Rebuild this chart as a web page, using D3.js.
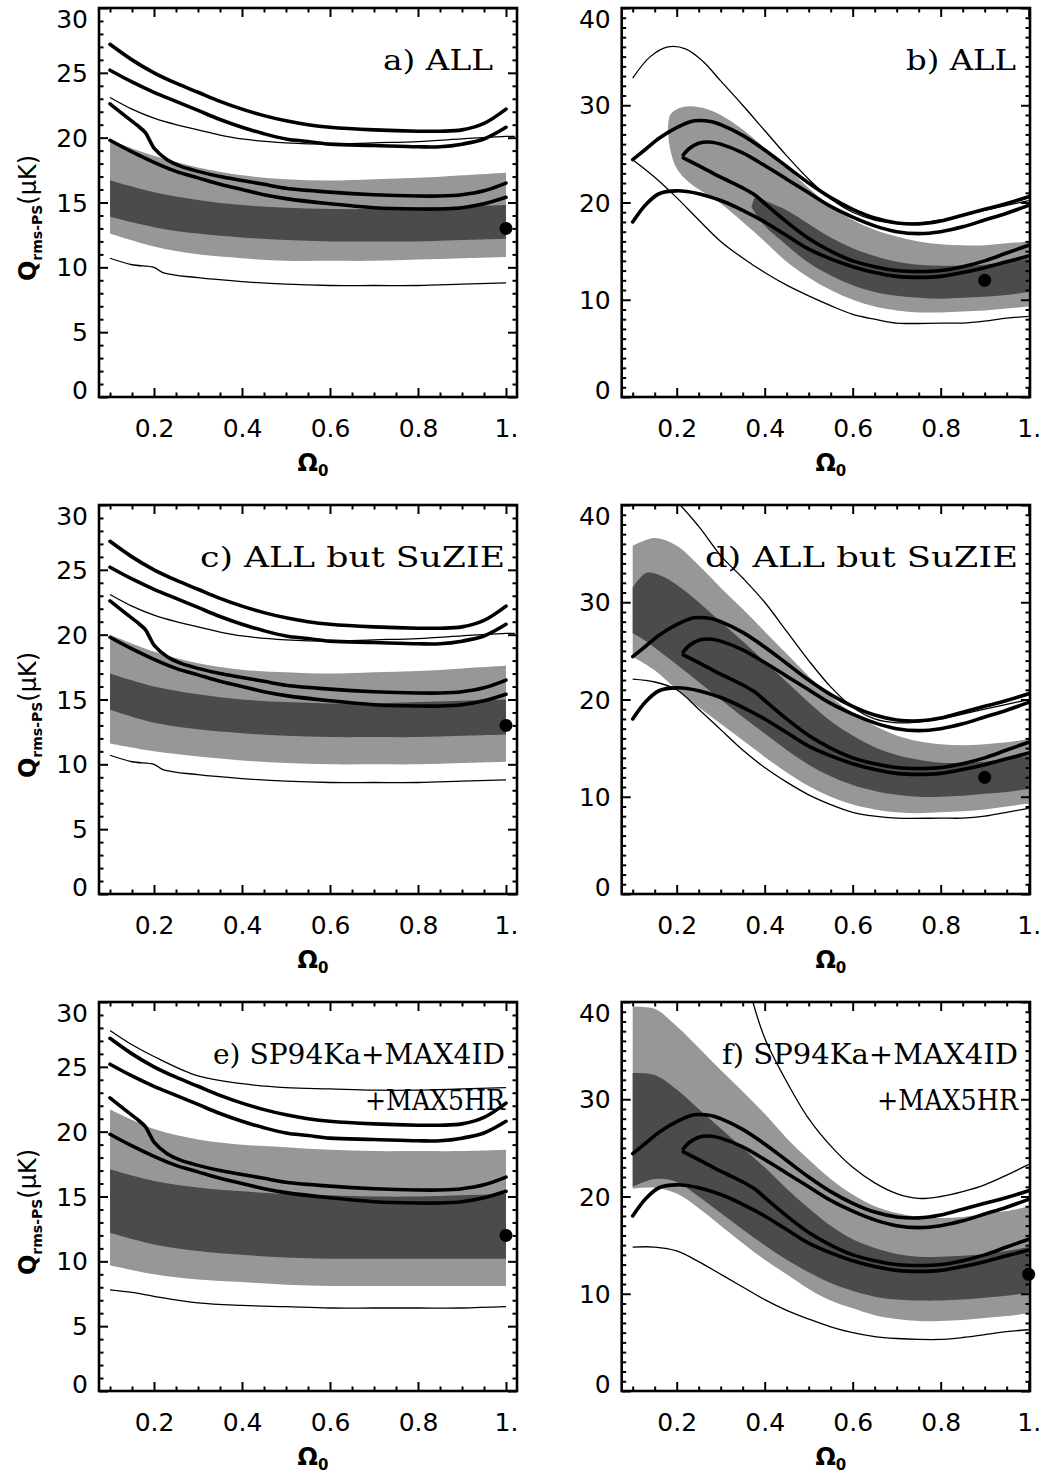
<!DOCTYPE html>
<html>
<head>
<meta charset="utf-8">
<script src="https://cdn.jsdelivr.net/npm/d3@7"></script>
<style>
  body { margin: 0; background: #fff; }
  text { fill: #000; }
</style>
</head>
<body>
<div id="chart"></div>
<script>
// ---- data ----
// thick contours, left column (a, c, e share them)
var thickL1 = [[0.1,27.2],[0.15,26.0],[0.2,25.0],[0.25,24.2],[0.3,23.5],[0.35,22.8],[0.4,22.2],[0.45,21.7],[0.5,21.3],[0.55,21.0],[0.6,20.8],[0.7,20.6],[0.8,20.5],[0.85,20.5],[0.9,20.6],[0.95,21.1],[1.0,22.2]];
var thickL2 = [[0.1,25.2],[0.15,24.3],[0.2,23.5],[0.25,22.8],[0.3,22.1],[0.35,21.4],[0.4,20.8],[0.45,20.3],[0.5,19.9],[0.55,19.7],[0.6,19.5],[0.7,19.4],[0.8,19.3],[0.85,19.3],[0.9,19.5],[0.95,19.9],[1.0,20.8]];
var thickL3 = [[0.1,22.6],[0.13,21.8],[0.16,21.0],[0.18,20.4],[0.19,19.8],[0.2,19.2],[0.23,18.3],[0.26,17.8],[0.3,17.4],[0.35,17.0],[0.4,16.7],[0.45,16.4],[0.5,16.1],[0.6,15.8],[0.7,15.6],[0.8,15.5],[0.85,15.5],[0.9,15.6],[0.95,15.9],[1.0,16.5]];
var thickL4 = [[0.1,19.8],[0.15,18.9],[0.2,18.1],[0.25,17.4],[0.3,16.9],[0.35,16.4],[0.4,16.0],[0.45,15.6],[0.5,15.3],[0.6,14.9],[0.7,14.6],[0.8,14.5],[0.85,14.5],[0.9,14.6],[0.95,14.9],[1.0,15.4]];

// thick contours, right column (b, d, f share them)
var thickR1 = [[0.1,24.4],[0.13,25.5],[0.16,26.6],[0.2,27.7],[0.24,28.4],[0.28,28.3],[0.3,28.0],[0.35,26.9],[0.4,25.4],[0.45,23.7],[0.5,22.0],[0.55,20.5],[0.6,19.3],[0.65,18.4],[0.7,17.9],[0.75,17.8],[0.8,18.1],[0.85,18.7],[0.9,19.3],[0.95,19.9],[1.0,20.6]];
var thickR2 = [[0.215,24.9],[0.23,25.6],[0.25,26.1],[0.28,26.2],[0.3,26.0],[0.35,25.1],[0.4,23.8],[0.45,22.4],[0.5,21.0],[0.55,19.6],[0.6,18.5],[0.65,17.6],[0.7,17.0],[0.75,16.8],[0.8,17.0],[0.85,17.5],[0.9,18.2],[0.95,18.9],[1.0,19.7]];
var thickR3 = [[0.215,24.6],[0.25,23.8],[0.3,22.6],[0.35,21.5],[0.38,20.7],[0.4,19.9],[0.45,18.0],[0.5,16.3],[0.55,15.0],[0.6,14.0],[0.65,13.4],[0.7,13.0],[0.75,12.9],[0.8,13.0],[0.85,13.4],[0.9,14.0],[0.95,14.8],[1.0,15.6]];
var thickR4 = [[0.1,18.0],[0.13,19.8],[0.16,20.9],[0.2,21.2],[0.25,20.9],[0.3,20.2],[0.35,19.2],[0.4,18.0],[0.45,16.6],[0.5,15.2],[0.55,14.2],[0.6,13.4],[0.65,12.8],[0.7,12.4],[0.75,12.3],[0.8,12.4],[0.85,12.8],[0.9,13.3],[0.95,13.9],[1.0,14.5]];

// shaded regions: [x, low, high]
var lightA = [[0.1,12.6,19.8],[0.2,11.6,18.6],[0.3,11.0,17.7],[0.4,10.7,17.1],[0.5,10.5,16.8],[0.6,10.5,16.7],[0.7,10.5,16.8],[0.8,10.6,16.9],[0.9,10.7,17.1],[1.0,10.8,17.3]];
var darkA  = [[0.1,13.9,16.7],[0.2,13.1,15.8],[0.3,12.6,15.2],[0.4,12.3,14.8],[0.5,12.1,14.6],[0.6,12.0,14.5],[0.7,12.0,14.5],[0.8,12.0,14.6],[0.9,12.1,14.7],[1.0,12.2,14.8]];
var lightC = [[0.1,11.6,20.0],[0.2,11.0,18.7],[0.3,10.6,17.8],[0.4,10.3,17.3],[0.5,10.1,17.1],[0.6,10.0,17.0],[0.7,10.0,17.1],[0.8,10.0,17.2],[0.9,10.1,17.4],[1.0,10.2,17.6]];
var darkC  = [[0.1,14.2,17.0],[0.2,13.2,16.0],[0.3,12.7,15.4],[0.4,12.4,15.0],[0.5,12.2,14.8],[0.6,12.1,14.7],[0.7,12.1,14.7],[0.8,12.1,14.8],[0.9,12.2,14.9],[1.0,12.3,15.0]];
var lightE = [[0.1,9.7,21.7],[0.2,9.0,20.2],[0.3,8.6,19.4],[0.4,8.4,19.0],[0.5,8.2,18.8],[0.6,8.1,18.6],[0.7,8.1,18.5],[0.8,8.1,18.5],[0.9,8.1,18.5],[1.0,8.1,18.6]];
var darkE  = [[0.1,12.2,17.1],[0.2,11.3,16.2],[0.3,10.8,15.7],[0.4,10.5,15.4],[0.5,10.3,15.2],[0.6,10.2,15.1],[0.7,10.2,15.0],[0.8,10.2,15.0],[0.9,10.2,15.1],[1.0,10.2,15.2]];
var lightB = [[0.18,27.5,27.5],[0.185,25.5,29.0],[0.2,23.5,29.6],[0.23,22.0,29.9],[0.27,20.8,29.6],[0.3,19.9,29.0],[0.35,18.0,27.5],[0.4,16.0,25.6],[0.45,13.9,23.6],[0.5,12.3,21.5],[0.55,11.0,19.6],[0.6,10.0,18.2],[0.65,9.3,17.2],[0.7,8.9,16.5],[0.75,8.7,16.0],[0.8,8.7,15.7],[0.85,8.8,15.6],[0.9,8.9,15.6],[0.95,9.1,15.8],[1.0,9.3,16.0]];
var darkB  = [[0.37,19.5,19.5],[0.38,18.8,20.6],[0.4,17.6,20.2],[0.45,15.6,19.2],[0.5,13.8,17.8],[0.55,12.5,16.4],[0.6,11.5,15.3],[0.65,10.8,14.5],[0.7,10.4,13.9],[0.75,10.2,13.6],[0.8,10.1,13.5],[0.85,10.2,13.5],[0.9,10.3,13.6],[0.95,10.5,13.9],[1.0,10.8,14.2]];
var lightD = [[0.1,24.4,35.8],[0.15,23.0,36.6],[0.2,21.0,35.8],[0.25,19.2,33.8],[0.3,17.5,31.5],[0.35,15.8,29.3],[0.4,14.1,27.0],[0.45,12.5,24.7],[0.5,11.1,22.4],[0.55,10.0,20.3],[0.6,9.2,18.6],[0.65,8.7,17.3],[0.7,8.4,16.3],[0.75,8.3,15.7],[0.8,8.4,15.4],[0.85,8.5,15.3],[0.9,8.7,15.4],[0.95,9.0,15.6],[1.0,9.3,15.9]];
var darkD  = [[0.1,26.8,31.5],[0.13,26.0,33.0],[0.16,25.0,32.8],[0.2,23.6,31.8],[0.25,21.8,30.0],[0.3,20.0,28.0],[0.35,18.2,26.0],[0.4,16.5,23.9],[0.45,14.8,21.8],[0.5,13.3,19.7],[0.55,12.1,17.8],[0.6,11.2,16.3],[0.65,10.6,15.1],[0.7,10.2,14.3],[0.75,10.0,13.8],[0.8,10.0,13.5],[0.85,10.1,13.5],[0.9,10.3,13.6],[0.95,10.5,13.9],[1.0,10.8,14.2]];
var lightF = [[0.1,20.8,39.5],[0.15,20.9,39.3],[0.2,20.3,37.5],[0.25,18.8,35.3],[0.3,17.0,33.0],[0.35,15.2,30.8],[0.4,13.5,28.5],[0.45,12.0,26.0],[0.5,10.5,23.8],[0.55,9.3,21.8],[0.6,8.5,20.2],[0.65,7.8,19.0],[0.7,7.4,18.3],[0.75,7.2,17.9],[0.8,7.2,17.8],[0.85,7.3,17.9],[0.9,7.5,18.2],[0.95,7.7,18.5],[1.0,8.0,19.0]];
var darkF  = [[0.1,21.0,32.7],[0.15,21.8,32.5],[0.2,21.5,31.0],[0.25,20.0,29.0],[0.3,18.3,27.0],[0.35,16.6,25.0],[0.4,15.0,23.0],[0.45,13.5,20.8],[0.5,12.2,18.8],[0.55,11.1,17.0],[0.6,10.3,15.6],[0.65,9.7,14.7],[0.7,9.4,14.1],[0.75,9.3,13.8],[0.8,9.3,13.8],[0.85,9.4,13.9],[0.9,9.6,14.1],[0.95,9.8,14.4],[1.0,10.1,14.8]];

// thin limit curves
var thinA1 = [[0.1,23.1],[0.15,22.2],[0.2,21.5],[0.25,21.0],[0.3,20.6],[0.35,20.2],[0.4,19.9],[0.5,19.6],[0.6,19.5],[0.7,19.6],[0.8,19.7],[0.9,19.9],[1.0,20.1],[1.02,20.1]];
var thinA2 = [[0.1,10.7],[0.15,10.2],[0.2,10.0],[0.22,9.6],[0.3,9.2],[0.4,8.9],[0.5,8.7],[0.6,8.6],[0.7,8.6],[0.8,8.6],[0.9,8.7],[1.0,8.8]];
var thinE1 = [[0.1,27.8],[0.15,26.7],[0.2,25.8],[0.3,24.3],[0.4,23.7],[0.5,23.4],[0.6,23.3],[0.7,23.2],[0.8,23.2],[0.9,23.3],[1.0,23.4]];
var thinE2 = [[0.1,7.8],[0.15,7.6],[0.2,7.3],[0.3,6.8],[0.4,6.6],[0.5,6.5],[0.6,6.4],[0.7,6.4],[0.8,6.4],[0.9,6.4],[1.0,6.5]];
var thinB1 = [[0.1,32.8],[0.14,35.0],[0.18,36.0],[0.22,35.8],[0.26,34.5],[0.3,32.5],[0.35,30.0],[0.4,27.4],[0.45,24.8],[0.5,22.4],[0.55,20.4],[0.6,19.0],[0.65,18.2],[0.7,17.9],[0.75,17.9],[0.8,18.2],[0.85,18.7],[0.9,19.2],[0.95,19.7],[1.0,20.2]];
var thinB2 = [[0.1,24.4],[0.15,22.6],[0.2,20.5],[0.25,18.2],[0.3,16.0],[0.35,14.3],[0.4,12.8],[0.45,11.5],[0.5,10.4],[0.55,9.4],[0.6,8.5],[0.65,8.0],[0.7,7.6],[0.8,7.6],[0.85,7.6],[0.9,7.8],[0.95,8.1],[1.0,8.3]];
var thinD1 = [[0.18,40.8],[0.2,40.3],[0.25,37.8],[0.3,34.8],[0.35,32.5],[0.4,30.0],[0.45,27.0],[0.5,24.0],[0.55,21.3],[0.6,19.2],[0.65,18.0],[0.7,17.6],[0.75,17.7],[0.8,18.0],[0.85,18.5],[0.9,19.0],[0.95,19.5],[1.0,20.0]];
var thinD2 = [[0.1,22.1],[0.15,21.8],[0.2,21.0],[0.25,19.0],[0.3,16.9],[0.35,14.8],[0.4,13.0],[0.45,11.5],[0.5,10.2],[0.55,9.2],[0.6,8.4],[0.65,8.0],[0.7,7.8],[0.8,7.8],[0.85,7.8],[0.9,8.0],[0.95,8.4],[1.0,8.8]];
var thinF1 = [[0.37,40.5],[0.4,36.3],[0.45,31.8],[0.5,28.0],[0.55,25.2],[0.6,23.0],[0.65,21.4],[0.7,20.3],[0.75,19.8],[0.8,20.0],[0.85,20.5],[0.9,21.2],[0.95,22.2],[1.0,23.3]];
var thinF2 = [[0.1,14.8],[0.15,14.8],[0.2,14.4],[0.25,13.3],[0.3,12.0],[0.35,10.7],[0.4,9.4],[0.45,8.3],[0.5,7.4],[0.55,6.6],[0.6,6.0],[0.65,5.6],[0.7,5.4],[0.75,5.3],[0.8,5.3],[0.85,5.5],[0.9,5.8],[0.95,6.1],[1.0,6.3]];

// best-fit points
var bestA = [1.0, 13.0], bestB = [0.9, 12.0], bestC = [1.0, 13.0];
var bestD = [0.9, 12.0], bestE = [1.0, 12.0], bestF = [1.0, 12.0];

// axis ticks
var xMajor = [0.2, 0.4, 0.6, 0.8, 1.0];
var yMajorLeft = [0, 5, 10, 15, 20, 25, 30];
var yMajorRight = [0, 10, 20, 30, 40];

// panel labels
var labelsA = ["a) ALL"], labelsB = ["b) ALL"];
var labelsC = ["c) ALL but SuZIE"], labelsD = ["d) ALL but SuZIE"];
var labelsE = ["e) SP94Ka+MAX4ID", "+MAX5HR"], labelsF = ["f) SP94Ka+MAX4ID", "+MAX5HR"];

// ---- layout ----
var W = 1046, H = 1479;
var rowTop = [8, 505, 1002], plotH = 389;
var col = [
    {x0: 99, x1: 517, xMax: 1.025, yMax: 30, yTicks: yMajorLeft, minorStep: 1},
    {x0: 621.7, x1: 1030, xMax: 1.003, yMax: 40, yTicks: yMajorRight, minorStep: 1}
];
var lightGray = "#979797", darkGray = "#4b4b4b";

var panels = [
    {c: 0, r: 0, light: lightA, dark: darkA, thick: [thickL1, thickL2, thickL3, thickL4], thin: [thinA1, thinA2], best: bestA, label: labelsA, lx: 493, lw: [110]},
    {c: 1, r: 0, light: lightB, dark: darkB, thick: [thickR1, thickR2, thickR3, thickR4], thin: [thinB1, thinB2], best: bestB, label: labelsB, lx: 1016, lw: [110]},
    {c: 0, r: 1, light: lightC, dark: darkC, thick: [thickL1, thickL2, thickL3, thickL4], thin: [thinA1, thinA2], best: bestC, label: labelsC, lx: 505, lw: [305]},
    {c: 1, r: 1, light: lightD, dark: darkD, thick: [thickR1, thickR2, thickR3, thickR4], thin: [thinD1, thinD2], best: bestD, label: labelsD, lx: 1018, lw: [313]},
    {c: 0, r: 2, light: lightE, dark: darkE, thick: [thickL1, thickL2, thickL3, thickL4], thin: [thinE1, thinE2], best: bestE, label: labelsE, lx: 505, lw: [292, 140]},
    {c: 1, r: 2, light: lightF, dark: darkF, thick: [thickR1, thickR2, thickR3, thickR4], thin: [thinF1, thinF2], best: bestF, label: labelsF, lx: 1018, lw: [296, 141]}
];

var svg = d3.select("#chart").append("svg")
    .attr("width", W)
    .attr("height", H)
    .style("background", "#fff");

panels.forEach(function (p, i) {
    var c = col[p.c];
    var top = rowTop[p.r];
    var w = c.x1 - c.x0;

    var x = d3.scaleLinear().domain([0.075, c.xMax]).range([0, w]);
    var y = d3.scaleLinear().domain([0, c.yMax]).range([plotH, 0]);

    var g = svg.append("g").attr("transform", "translate(" + c.x0 + "," + top + ")");

    g.append("clipPath").attr("id", "clip" + i)
        .append("rect").attr("width", w).attr("height", plotH);

    var plot = g.append("g").attr("clip-path", "url(#clip" + i + ")");

    var area = d3.area()
        .x(function (d) { return x(d[0]); })
        .y0(function (d) { return y(d[1]); })
        .y1(function (d) { return y(d[2]); })
        .curve(d3.curveCatmullRom.alpha(0.5));

    var line = d3.line()
        .x(function (d) { return x(d[0]); })
        .y(function (d) { return y(d[1]); })
        .curve(d3.curveCatmullRom.alpha(0.5));

    plot.append("path").attr("d", area(p.light)).attr("fill", lightGray);
    plot.append("path").attr("d", area(p.dark)).attr("fill", darkGray);

    p.thin.forEach(function (d) {
        plot.append("path").attr("d", line(d))
            .attr("fill", "none").attr("stroke", "#000").attr("stroke-width", 1.3);
    });
    p.thick.forEach(function (d) {
        plot.append("path").attr("d", line(d))
            .attr("fill", "none").attr("stroke", "#000").attr("stroke-width", 3.6)
            .attr("stroke-linecap", "round").attr("stroke-linejoin", "round");
    });

    g.append("circle")
        .attr("cx", x(p.best[0]))
        .attr("cy", y(p.best[1]))
        .attr("r", 6.5)
        .attr("fill", "#000");

    // axes (ticks inward, IDL style)
    var xMinor = d3.range(0.1, 1.001, 0.05).filter(function (v) { return Math.abs(v * 5 - Math.round(v * 5)) > 1e-6; });
    var yMinor = d3.range(0, c.yMax + 0.001, c.minorStep).filter(function (v) { return c.yTicks.indexOf(v) < 0; });
    var fmtX = function (d) { return d === 1 ? "1." : d3.format(".1f")(d); };

    var axes = [
        {ax: d3.axisBottom(x).tickValues(xMajor).tickFormat(fmtX), t: "translate(0," + plotH + ")", size: -9, pad: 22},
        {ax: d3.axisBottom(x).tickValues(xMinor).tickFormat(""), t: "translate(0," + plotH + ")", size: -4.5},
        {ax: d3.axisTop(x).tickValues(xMajor).tickFormat(""), t: "", size: -9},
        {ax: d3.axisTop(x).tickValues(xMinor).tickFormat(""), t: "", size: -4.5},
        {ax: d3.axisLeft(y).tickValues(c.yTicks), t: "", size: -9, pad: 11, left: true},
        {ax: d3.axisLeft(y).tickValues(yMinor).tickFormat(""), t: "", size: -4.5},
        {ax: d3.axisRight(y).tickValues(c.yTicks).tickFormat(""), t: "translate(" + w + ",0)", size: -9},
        {ax: d3.axisRight(y).tickValues(yMinor).tickFormat(""), t: "translate(" + w + ",0)", size: -4.5}
    ];
    axes.forEach(function (a) {
        var ag = g.append("g").attr("transform", a.t)
            .call(a.ax.tickSizeInner(a.size).tickSizeOuter(0).tickPadding(a.pad || 10));
        ag.select(".domain").remove();
        ag.selectAll(".tick line").attr("stroke", "#000").attr("stroke-width", 2);
        ag.selectAll("text")
            .attr("font-family", "DejaVu Sans")
            .attr("font-size", 25)
            .attr("fill", "#000");
        if (a.left) {
            // end labels are nudged inside the figure, as in the original
            ag.selectAll(".tick text").attr("dy", function (d) {
                if (d === c.yMax) return "0.78em";
                if (d === 0) return "0.06em";
                return "0.34em";
            });
        }
    });

    g.append("rect")
        .attr("width", w).attr("height", plotH)
        .attr("fill", "none").attr("stroke", "#000").attr("stroke-width", 2.6);

    // axis titles
    var xt = g.append("text")
        .attr("x", w / 2 + 5)
        .attr("y", plotH + 74)
        .attr("text-anchor", "middle")
        .attr("font-family", "DejaVu Sans")
        .attr("font-weight", "bold")
        .attr("font-size", 24);
    xt.append("tspan").text("Ω");
    xt.append("tspan").attr("font-size", 15).attr("dy", 5).text("0");

    if (p.c === 0) {
        var yt = svg.append("text")
            .attr("transform", "translate(36," + (top + 210) + ") rotate(-90)")
            .attr("text-anchor", "middle")
            .attr("font-family", "DejaVu Sans")
            .attr("font-size", 24);
        yt.append("tspan").attr("font-weight", "bold").text("Q");
        yt.append("tspan").attr("font-size", 14).attr("font-weight", "bold").attr("dy", 6).text("rms-PS");
        yt.append("tspan").attr("dy", -6).text("(μK)");
    }

    // panel label, right aligned
    p.label.forEach(function (s, k) {
        g.append("text")
            .attr("x", p.lx - c.x0)
            .attr("y", 62 + k * 46)
            .attr("text-anchor", "end")
            .attr("font-family", "DejaVu Serif")
            .attr("font-size", 28)
            .attr("textLength", p.lw[k])
            .attr("lengthAdjust", "spacingAndGlyphs")
            .text(s);
    });
});
</script>
</body>
</html>
